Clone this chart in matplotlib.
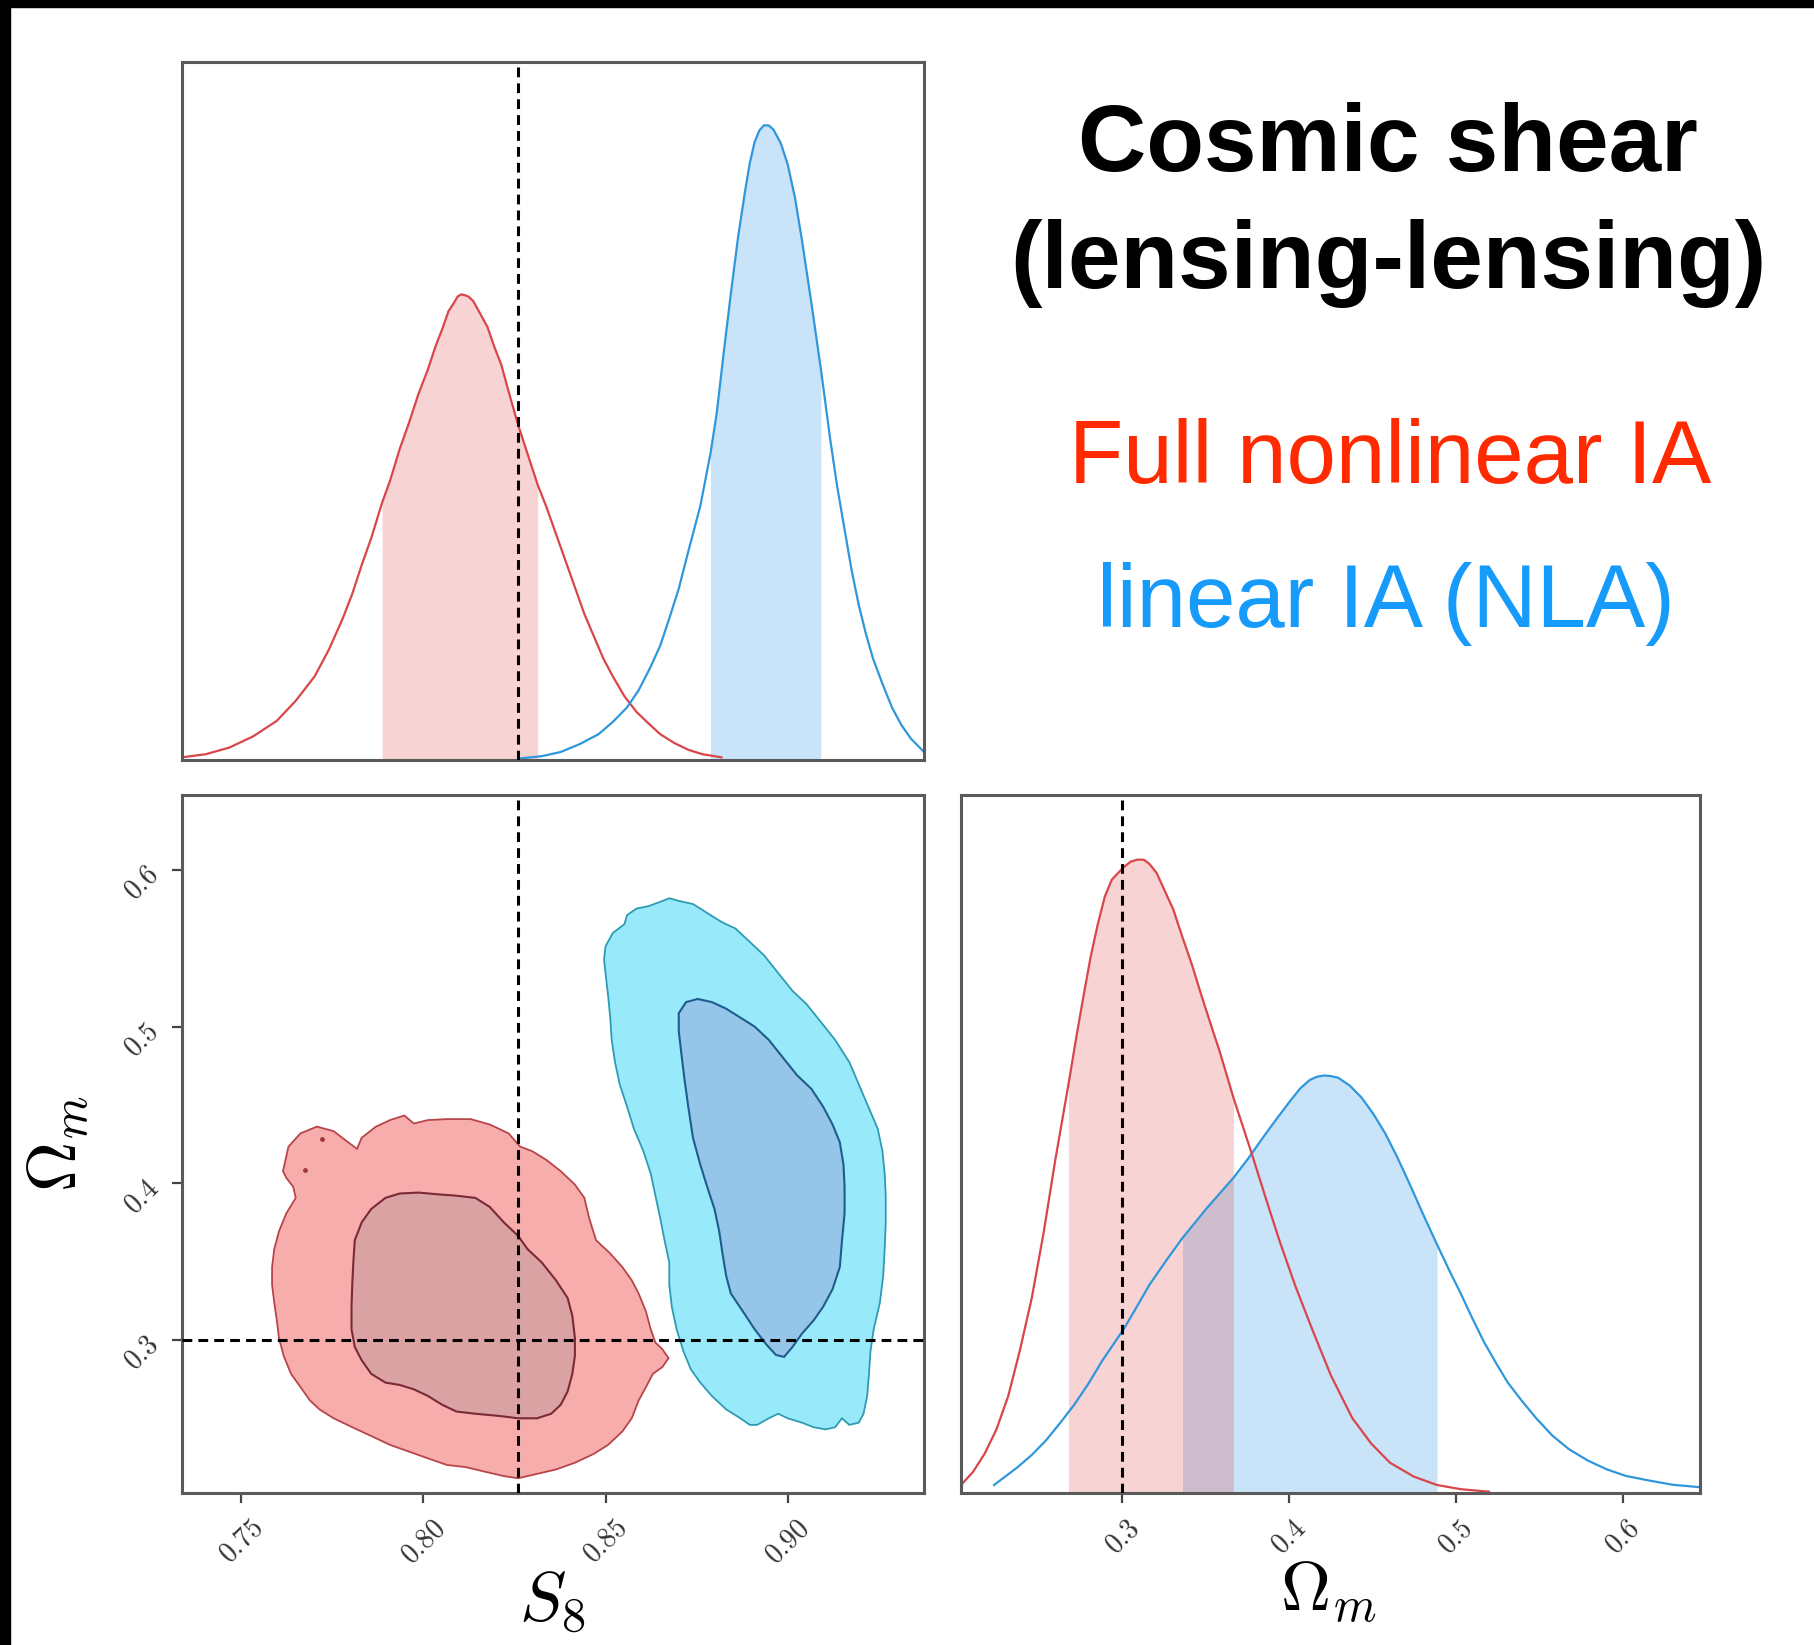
import numpy as np
import matplotlib.pyplot as plt
from matplotlib.patches import Rectangle

plt.rcParams['mathtext.fontset'] = 'cm'

# fiducial cosmology (dashed lines)
S8_FID = 0.826
OM_FID = 0.3

# axis ranges
S8_LIM = (0.7338, 0.9374)
OM_LIM_2D = (0.2024, 0.648)
OM_LIM_1D = (0.2034, 0.6465)

s8_ticks = [0.75, 0.80, 0.85, 0.90]
s8_ticklabels = ['0.75', '0.80', '0.85', '0.90']
om_ticks = [0.3, 0.4, 0.5, 0.6]
om_ticklabels = ['0.3', '0.4', '0.5', '0.6']

# --- S8 marginals ---
s8_red_x = [0.7338, 0.7403, 0.7468, 0.7533, 0.7598, 0.7650, 0.7702, 0.7741, 0.7779, 0.7805,
            0.7831, 0.7857, 0.7887, 0.7909, 0.7935, 0.7961, 0.7987, 0.8013, 0.8033, 0.8052,
            0.8069, 0.8085, 0.8094, 0.8104, 0.8115, 0.8124, 0.8137, 0.8156, 0.8176, 0.8195,
            0.8214, 0.8234, 0.8260, 0.8286, 0.8314, 0.8338, 0.8364, 0.8390, 0.8416, 0.8442,
            0.8468, 0.8494, 0.8520, 0.8552, 0.8585, 0.8617, 0.8650, 0.8689, 0.8727, 0.8766,
            0.8818]
s8_red_y = [0.0042, 0.0091, 0.0196, 0.0372, 0.0617, 0.0933, 0.1319, 0.1740, 0.2231, 0.2617,
            0.3073, 0.3494, 0.4055, 0.4406, 0.4897, 0.5318, 0.5774, 0.6160, 0.6510, 0.6791,
            0.7071, 0.7212, 0.7303, 0.7338, 0.7324, 0.7303, 0.7233, 0.7036, 0.6826, 0.6510,
            0.6230, 0.5809, 0.5283, 0.4827, 0.4336, 0.3985, 0.3564, 0.3143, 0.2722, 0.2301,
            0.1950, 0.1600, 0.1319, 0.1003, 0.0758, 0.0582, 0.0407, 0.0267, 0.0161, 0.0091,
            0.0042]
s8_red_band = (0.7887, 0.8314)

s8_blue_x = [0.8260, 0.8325, 0.8377, 0.8429, 0.8481, 0.8520, 0.8559, 0.8591, 0.8623, 0.8650,
             0.8675, 0.8701, 0.8727, 0.8760, 0.8788, 0.8805, 0.8825, 0.8844, 0.8864, 0.8883,
             0.8896, 0.8909, 0.8922, 0.8935, 0.8948, 0.8961, 0.8981, 0.9000, 0.9020, 0.9039,
             0.9065, 0.9091, 0.9117, 0.9136, 0.9156, 0.9175, 0.9195, 0.9214, 0.9234, 0.9260,
             0.9286, 0.9312, 0.9338, 0.9374]
s8_blue_y = [0.0021, 0.0060, 0.0126, 0.0250, 0.0407, 0.0600, 0.0828, 0.1100, 0.1459, 0.1800,
             0.2231, 0.2700, 0.3283, 0.4000, 0.4827, 0.5458, 0.6450, 0.7352, 0.8250, 0.8966,
             0.9410, 0.9737, 0.9920, 1.0004, 1.0000, 0.9934, 0.9720, 0.9386, 0.8860, 0.8194,
             0.7200, 0.6160, 0.5037, 0.4300, 0.3634, 0.3000, 0.2441, 0.2000, 0.1599, 0.1200,
             0.0828, 0.0550, 0.0337, 0.0126]
s8_blue_band = (0.8788, 0.9091)

# --- Omega_m marginals ---
om_red_x = [0.2034, 0.2105, 0.2175, 0.2246, 0.2317, 0.2387, 0.2458, 0.2529, 0.2599, 0.2678,
            0.2726, 0.2769, 0.2811, 0.2854, 0.2896, 0.2938, 0.3009, 0.3051, 0.3094, 0.3130,
            0.3164, 0.3207, 0.3249, 0.3306, 0.3362, 0.3419, 0.3475, 0.3532, 0.3588, 0.3667,
            0.3772, 0.3857, 0.3942, 0.4040, 0.4139, 0.4252, 0.4380, 0.4493, 0.4606, 0.4747,
            0.4888, 0.5030, 0.5199]
om_red_y = [0.0126, 0.0330, 0.0617, 0.1000, 0.1529, 0.2250, 0.3073, 0.4100, 0.5247, 0.6440,
            0.7200, 0.7843, 0.8450, 0.8966, 0.9400, 0.9667, 0.9863, 0.9950, 0.9983, 0.9980,
            0.9913, 0.9770, 0.9527, 0.9200, 0.8755, 0.8320, 0.7843, 0.7380, 0.6931, 0.6230,
            0.5388, 0.4680, 0.3985, 0.3250, 0.2582, 0.1850, 0.1179, 0.0780, 0.0477, 0.0260,
            0.0126, 0.0060, 0.0021]
om_red_band = (0.2678, 0.3667)

om_blue_x = [0.2232, 0.2373, 0.2458, 0.2543, 0.2627, 0.2712, 0.2797, 0.2882, 0.3009, 0.3080,
             0.3164, 0.3263, 0.3362, 0.3503, 0.3667, 0.3758, 0.3843, 0.3927, 0.4012, 0.4069,
             0.4125, 0.4168, 0.4210, 0.4252, 0.4295, 0.4365, 0.4436, 0.4507, 0.4577, 0.4648,
             0.4719, 0.4803, 0.4888, 0.4959, 0.5030, 0.5100, 0.5171, 0.5241, 0.5312, 0.5397,
             0.5482, 0.5581, 0.5680, 0.5793, 0.5906, 0.6019, 0.6160, 0.6301, 0.6465]
om_blue_y = [0.0126, 0.0407, 0.0600, 0.0828, 0.1100, 0.1389, 0.1720, 0.2091, 0.2582, 0.2900,
             0.3283, 0.3660, 0.4020, 0.4476, 0.4967, 0.5280, 0.5598, 0.5900, 0.6195, 0.6380,
             0.6510, 0.6560, 0.6580, 0.6570, 0.6545, 0.6420, 0.6230, 0.5970, 0.5668, 0.5300,
             0.4897, 0.4400, 0.3915, 0.3520, 0.3143, 0.2750, 0.2371, 0.2050, 0.1740, 0.1450,
             0.1179, 0.0900, 0.0688, 0.0510, 0.0372, 0.0270, 0.0196, 0.0130, 0.0091]
om_blue_band = (0.3362, 0.4888)

# --- 2D contours (S8, Omega_m) ---
red_outer_s8 = [0.7615, 0.7630, 0.7663, 0.7708, 0.7754, 0.7786, 0.7818, 0.7831, 0.7870, 0.7909,
                0.7948, 0.7974, 0.8013, 0.8065, 0.8130, 0.8182, 0.8234, 0.8266, 0.8299, 0.8338,
                0.8377, 0.8416, 0.8442, 0.8455, 0.8474, 0.8513, 0.8546, 0.8572, 0.8591, 0.8611,
                0.8624, 0.8637, 0.8656, 0.8673, 0.8656, 0.8630, 0.8611, 0.8591, 0.8572, 0.8546,
                0.8507, 0.8468, 0.8416, 0.8364, 0.8312, 0.8260, 0.8221, 0.8169, 0.8117, 0.8065,
                0.8013, 0.7961, 0.7909, 0.7857, 0.7805, 0.7754, 0.7715, 0.7689, 0.7663, 0.7637,
                0.7617, 0.7604, 0.7598, 0.7591, 0.7585, 0.7585, 0.7591, 0.7604, 0.7624, 0.7650,
                0.7643, 0.7624]
red_outer_om = [0.4079, 0.4235, 0.4320, 0.4363, 0.4334, 0.4277, 0.4221, 0.4292, 0.4363, 0.4405,
                0.4434, 0.4383, 0.4405, 0.4411, 0.4411, 0.4377, 0.4320, 0.4235, 0.4206, 0.4150,
                0.4079, 0.3993, 0.3908, 0.3780, 0.3638, 0.3553, 0.3467, 0.3382, 0.3297, 0.3183,
                0.3070, 0.2984, 0.2942, 0.2885, 0.2828, 0.2785, 0.2700, 0.2615, 0.2501, 0.2416,
                0.2331, 0.2274, 0.2217, 0.2174, 0.2146, 0.2118, 0.2132, 0.2160, 0.2189, 0.2203,
                0.2245, 0.2288, 0.2331, 0.2388, 0.2444, 0.2501, 0.2558, 0.2615, 0.2700, 0.2785,
                0.2899, 0.3013, 0.3126, 0.3240, 0.3354, 0.3467, 0.3581, 0.3695, 0.3809, 0.3908,
                0.3979, 0.4036]
red_inner_s8 = [0.7812, 0.7831, 0.7857, 0.7896, 0.7935, 0.7987, 0.8039, 0.8091, 0.8143, 0.8182,
                0.8221, 0.8260, 0.8286, 0.8325, 0.8364, 0.8396, 0.8409, 0.8416, 0.8416, 0.8409,
                0.8396, 0.8377, 0.8351, 0.8312, 0.8260, 0.8208, 0.8143, 0.8091, 0.8052, 0.8013,
                0.7974, 0.7935, 0.7896, 0.7857, 0.7831, 0.7812, 0.7803, 0.7803, 0.7805, 0.7808]
red_inner_om = [0.3638, 0.3752, 0.3837, 0.3908, 0.3936, 0.3942, 0.3931, 0.3922, 0.3908, 0.3851,
                0.3752, 0.3666, 0.3581, 0.3496, 0.3382, 0.3269, 0.3155, 0.3013, 0.2899, 0.2785,
                0.2672, 0.2587, 0.2530, 0.2501, 0.2501, 0.2516, 0.2530, 0.2544, 0.2587, 0.2643,
                0.2686, 0.2714, 0.2729, 0.2785, 0.2871, 0.2956, 0.3070, 0.3212, 0.3354, 0.3496]
red_islands_s8 = [0.7721, 0.7676]
red_islands_om = [0.4283, 0.4084]

blue_outer_s8 = [0.8496, 0.8500, 0.8520, 0.8552, 0.8559, 0.8585, 0.8617, 0.8650, 0.8675, 0.8701,
                 0.8740, 0.8779, 0.8818, 0.8857, 0.8896, 0.8935, 0.8974, 0.9013, 0.9052, 0.9091,
                 0.9130, 0.9169, 0.9195, 0.9221, 0.9247, 0.9260, 0.9266, 0.9269, 0.9269, 0.9266,
                 0.9262, 0.9253, 0.9236, 0.9227, 0.9223, 0.9218, 0.9208, 0.9195, 0.9169, 0.9149,
                 0.9130, 0.9104, 0.9071, 0.9039, 0.9000, 0.8974, 0.8948, 0.8916, 0.8896, 0.8870,
                 0.8831, 0.8792, 0.8760, 0.8734, 0.8714, 0.8695, 0.8682, 0.8675, 0.8675, 0.8662,
                 0.8650, 0.8637, 0.8624, 0.8604, 0.8578, 0.8559, 0.8539, 0.8526, 0.8517, 0.8513,
                 0.8507, 0.8500]
blue_outer_om = [0.5428, 0.5514, 0.5599, 0.5656, 0.5713, 0.5755, 0.5770, 0.5798, 0.5821, 0.5804,
                 0.5784, 0.5727, 0.5670, 0.5627, 0.5542, 0.5457, 0.5343, 0.5230, 0.5144, 0.5031,
                 0.4917, 0.4775, 0.4633, 0.4491, 0.4349, 0.4206, 0.4064, 0.3922, 0.3752, 0.3581,
                 0.3411, 0.3240, 0.3070, 0.2928, 0.2785, 0.2643, 0.2530, 0.2473, 0.2459, 0.2501,
                 0.2444, 0.2430, 0.2444, 0.2473, 0.2501, 0.2530, 0.2501, 0.2459, 0.2459, 0.2501,
                 0.2558, 0.2643, 0.2729, 0.2814, 0.2928, 0.3070, 0.3212, 0.3354, 0.3496, 0.3638,
                 0.3780, 0.3922, 0.4064, 0.4206, 0.4349, 0.4491, 0.4633, 0.4775, 0.4917, 0.5059,
                 0.5201, 0.5343]
blue_inner_s8 = [0.8701, 0.8701, 0.8721, 0.8753, 0.8792, 0.8831, 0.8870, 0.8909, 0.8948, 0.8987,
                 0.9026, 0.9065, 0.9097, 0.9123, 0.9143, 0.9153, 0.9156, 0.9156, 0.9149, 0.9143,
                 0.9123, 0.9097, 0.9071, 0.9039, 0.9013, 0.8990, 0.8968, 0.8942, 0.8909, 0.8877,
                 0.8844, 0.8831, 0.8821, 0.8812, 0.8799, 0.8779, 0.8760, 0.8740, 0.8727, 0.8717,
                 0.8708]
blue_inner_om = [0.4974, 0.5087, 0.5158, 0.5178, 0.5158, 0.5116, 0.5059, 0.5002, 0.4917, 0.4803,
                 0.4690, 0.4604, 0.4491, 0.4377, 0.4263, 0.4121, 0.3979, 0.3809, 0.3638, 0.3467,
                 0.3325, 0.3212, 0.3126, 0.3041, 0.2956, 0.2893, 0.2905, 0.2970, 0.3070, 0.3183,
                 0.3297, 0.3411, 0.3553, 0.3695, 0.3837, 0.3979, 0.4121, 0.4292, 0.4491, 0.4661,
                 0.4832]

RED_LINE = '#d9464a'
BLUE_LINE = '#2f97dc'
FRAME = '#5a5a5a'

fig = plt.figure(figsize=(18.15, 16.45), dpi=100)
ax_s8 = fig.add_axes([0.1003, 0.5380, 0.4088, 0.4243])
ax_2d = fig.add_axes([0.1003, 0.0924, 0.4088, 0.4243])
ax_om = fig.add_axes([0.5295, 0.0924, 0.4072, 0.4243])


def style_frame(ax):
    for sp in ax.spines.values():
        sp.set_color(FRAME)
        sp.set_linewidth(2.2)
    ax.tick_params(direction='out', length=7, width=1.6, color='#444444')


def marginal(ax, x, y, band, line, shade, alpha):
    x = np.asarray(x)
    y = np.asarray(y)
    inside = (x >= band[0] - 1e-9) & (x <= band[1] + 1e-9)
    ax.fill_between(x, 0, y, where=inside, color=shade, alpha=alpha, lw=0)
    ax.plot(x, y, color=line, lw=1.6, solid_joinstyle='round')


def fiducial(ax, vertical=None, horizontal=None):
    kw = dict(color='black', lw=2.2, dashes=(3.2, 2.0), zorder=5)
    if vertical is not None:
        ax.axvline(vertical, **kw)
    if horizontal is not None:
        ax.axhline(horizontal, **kw)


# S8 marginal
marginal(ax_s8, s8_red_x, s8_red_y, s8_red_band, RED_LINE, '#e04848', 0.24)
marginal(ax_s8, s8_blue_x, s8_blue_y, s8_blue_band, BLUE_LINE, '#2f95e6', 0.26)
fiducial(ax_s8, vertical=S8_FID)
ax_s8.set_xlim(*S8_LIM)
ax_s8.set_ylim(0, 1.1)
ax_s8.set_xticks([])
ax_s8.set_yticks([])
style_frame(ax_s8)

# Omega_m marginal
marginal(ax_om, om_blue_x, om_blue_y, om_blue_band, BLUE_LINE, '#2f95e6', 0.26)
marginal(ax_om, om_red_x, om_red_y, om_red_band, RED_LINE, '#e04848', 0.24)
fiducial(ax_om, vertical=OM_FID)
ax_om.set_xlim(*OM_LIM_1D)
ax_om.set_ylim(0, 1.1)
ax_om.set_yticks([])
ax_om.set_xticks(om_ticks, labels=['$%s$' % t for t in om_ticklabels])
style_frame(ax_om)

# 2D contours
ax_2d.fill(red_outer_s8, red_outer_om, facecolor='#f8adad', edgecolor='#b8454a', lw=1.3)
ax_2d.fill(red_inner_s8, red_inner_om, facecolor='#daa2a2', edgecolor='#7a2a35', lw=1.5)
ax_2d.plot(red_islands_s8, red_islands_om, 'o', ms=2.5, color='#a03a40')
ax_2d.fill(blue_outer_s8, blue_outer_om, facecolor='#98eafa', edgecolor='#2e9bb4', lw=1.3)
ax_2d.fill(blue_inner_s8, blue_inner_om, facecolor='#95c5e8', edgecolor='#1f5c8e', lw=1.5)
fiducial(ax_2d, vertical=S8_FID, horizontal=OM_FID)
ax_2d.set_xlim(*S8_LIM)
ax_2d.set_ylim(*OM_LIM_2D)
ax_2d.set_xticks(s8_ticks, labels=['$%s$' % t for t in s8_ticklabels])
ax_2d.set_yticks(om_ticks, labels=['$%s$' % t for t in om_ticklabels])
style_frame(ax_2d)

for ax in (ax_2d, ax_om):
    ax.tick_params(axis='x', labelsize=20, pad=8, labelcolor='#333333')
    for lab in ax.get_xticklabels():
        lab.set_rotation(45)
        lab.set_ha('center')
ax_2d.tick_params(axis='y', labelsize=20, pad=13, labelcolor='#333333')
for lab in ax_2d.get_yticklabels():
    lab.set_rotation(45)
    lab.set_ha('right')
    lab.set_va('center')
    lab.set_rotation_mode('anchor')

ax_2d.set_xlabel(r'$S_8$', fontsize=50)
ax_2d.xaxis.set_label_coords(0.499, -0.108)
ax_om.set_xlabel(r'$\Omega_m$', fontsize=50)
ax_om.xaxis.set_label_coords(0.497, -0.094)
ax_2d.set_ylabel(r'$\Omega_m$', fontsize=50)
ax_2d.yaxis.set_label_coords(-0.122, 0.5)

# captions
sans = ['Liberation Sans', 'DejaVu Sans']
fig.text(0.7647, 0.8963, 'Cosmic shear', ha='center', va='baseline',
         fontsize=68, fontweight='bold', family=sans)
fig.text(0.7647, 0.8249, '(lensing-lensing)', ha='center', va='baseline',
         fontsize=68, fontweight='bold', family=sans)
fig.text(0.7658, 0.7064, 'Full nonlinear IA', ha='center', va='baseline',
         fontsize=64, color='#ff2a00', family=sans)
fig.text(0.7634, 0.6189, 'linear IA (NLA)', ha='center', va='baseline',
         fontsize=64, color='#179bfa', family=sans)

# black strips along the top and left edges
fig.patches.append(Rectangle((0, 1 - 7 / 1645), 1, 7 / 1645, transform=fig.transFigure,
                             color='black', zorder=10))
fig.patches.append(Rectangle((0, 0), 10 / 1815, 1, transform=fig.transFigure,
                             color='black', zorder=10))

fig.savefig('out.png', dpi=100)
